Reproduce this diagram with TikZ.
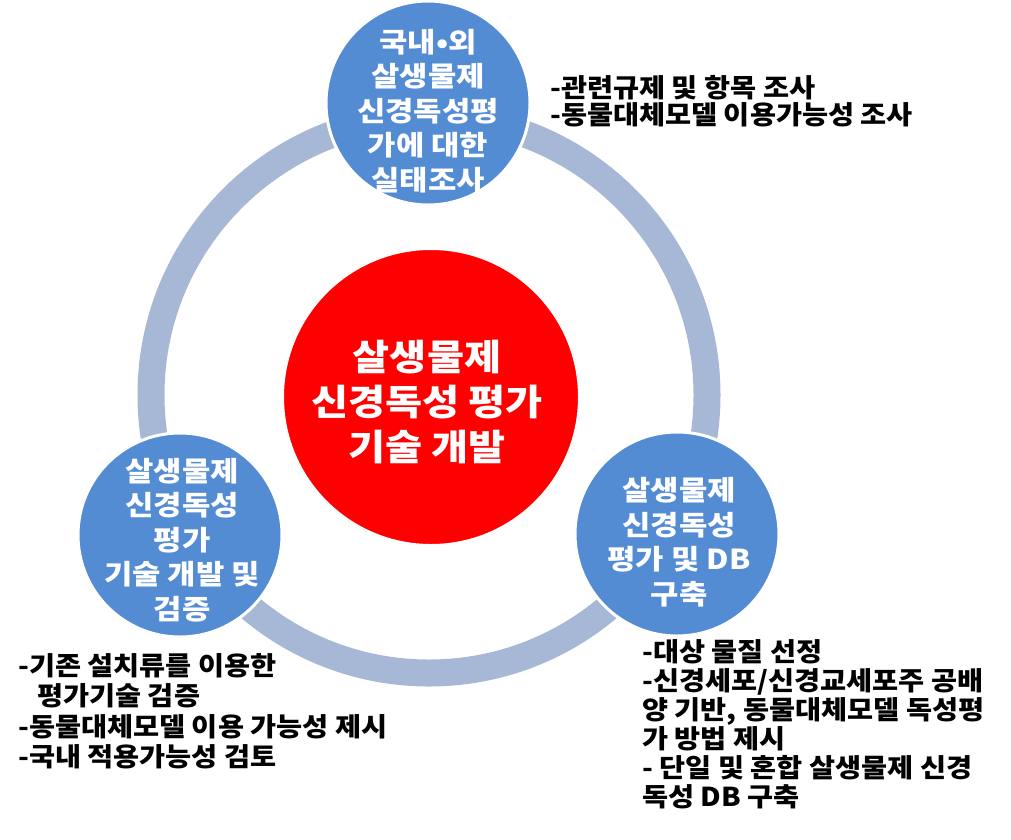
\documentclass[tikz,border=0pt]{standalone}
\usepackage{fontspec}
\setmainfont{Noto Sans CJK KR}
\newfontfamily\wideA{Noto Sans CJK KR}[FakeStretch=1.12]
\newfontfamily\wideB{Noto Sans CJK KR}[FakeStretch=1.09]
\definecolor{ringc}{RGB}{167,184,214}
\definecolor{bluec}{RGB}{84,140,212}
\definecolor{redc}{RGB}{255,0,0}
\tikzset{
  bluecirc/.style={circle, fill=bluec, draw=white, line width=3pt, minimum size=204pt, inner sep=0pt},
  redcirc/.style={circle, fill=redc, draw=white, line width=2pt, minimum size=296pt, inner sep=0pt},
  whitetxt/.style={text=white, align=center, font=\wideA\bfseries\fontsize{27.5}{34.5}\selectfont, inner sep=0pt},
  redtxt/.style={text=white, align=center, font=\wideA\bfseries\fontsize{36}{45}\selectfont, inner sep=0pt},
  note/.style={text=black, align=left, font=\wideB\bfseries\fontsize{26}{29}\selectfont, inner sep=0pt, anchor=west},
}
\begin{document}
\begin{tikzpicture}[x=1pt,y=-1pt]
\useasboundingbox (0,0) rectangle (1011,839);
% ring
\coordinate (rc) at (429,395);
\draw[ringc, line width=27pt] (rc) circle[radius=278];
% circles
\node[bluecirc] (top) at (428,103) {};
\node[bluecirc] (left) at (180,535) {};
\node[bluecirc] (right) at (677,534) {};
\node[redcirc] (center) at (431,397) {};
% texts in circles
\node[whitetxt] (toptxt) at (428,111) {국내•외\\살생물제\\신경독성평\\가에 대한\\실태조사};
\node[whitetxt] (lefttxt) at (182,540) {살생물제\\신경독성\\평가\\기술 개발 및\\검증};
\node[whitetxt] (righttxt) at (679,542) {살생물제\\신경독성\\평가 및 DB\\구축};
\node[redtxt] (centertxt) at (427,402) {살생물제\\신경독성 평가\\기술 개발};
% notes
\node[note, font=\wideB\bfseries\fontsize{26}{26.5}\selectfont] (notetop) at (550,101) {-관련규제 및 항목 조사\\-동물대체모델 이용가능성 조사};
\node[note, font=\wideB\bfseries\fontsize{26}{30.5}\selectfont] (noteleft) at (18,711) {-기존 설치류를 이용한\\\hspace*{19pt}평가기술 검증\\-동물대체모델 이용 가능성 제시\\-국내 적용가능성 검토};
\node[note] (noteright) at (642,724.5) {-대상 물질 선정\\-신경세포/신경교세포주 공배\\양 기반, 동물대체모델 독성평\\가 방법 제시\\- 단일 및 혼합 살생물제 신경\\독성 DB 구축};
\end{tikzpicture}
\end{document}
